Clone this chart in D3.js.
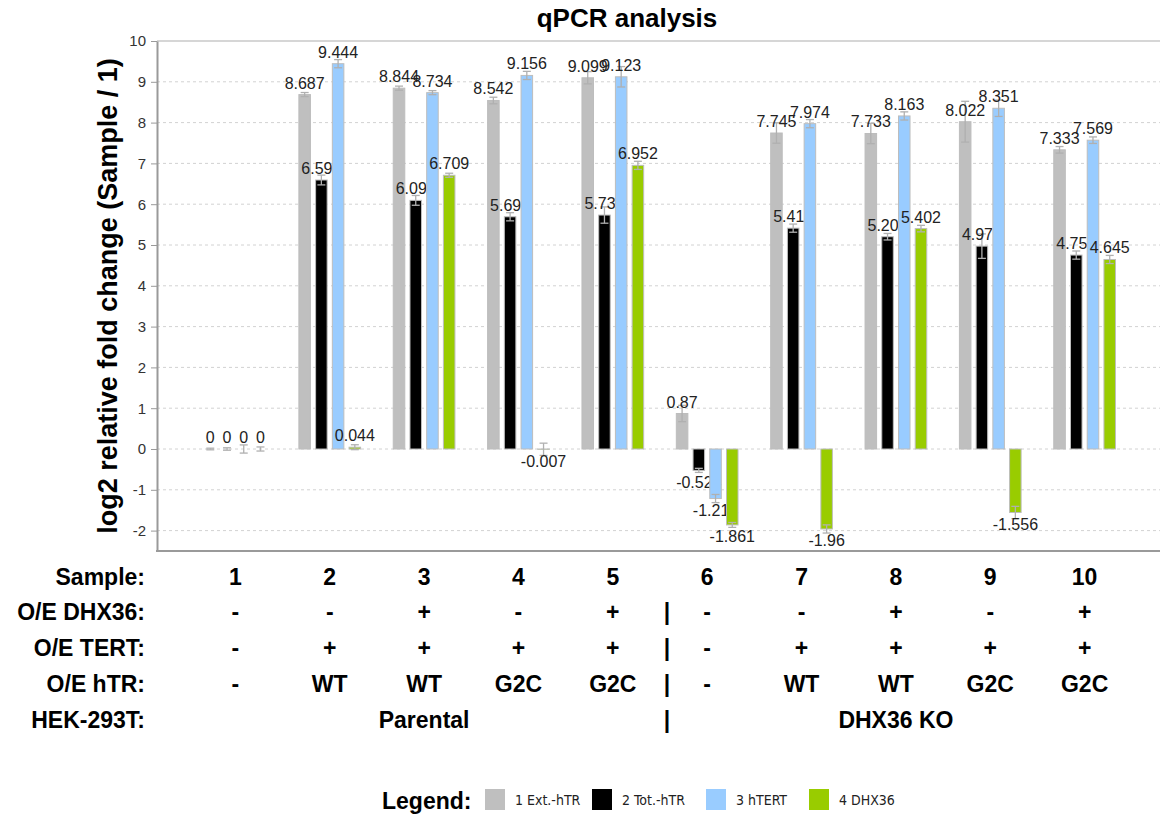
<!DOCTYPE html>
<html>
<head>
<meta charset="utf-8">
<title>qPCR analysis</title>
<script src="https://cdn.jsdelivr.net/npm/d3@7"></script>
<style>
  body { margin: 0; background: #fff; }
  svg { display: block; font-family: "Liberation Sans", Arial, sans-serif; }
</style>
</head>
<body>
<div id="chart"></div>
<script>
// Samples on the x axis, one group of four bars each.
const samples = ["1", "2", "3", "4", "5", "6", "7", "8", "9", "10"];
const seriesNames = ["1 Ext.-hTR", "2 Tot.-hTR", "3 hTERT", "4 DHX36"];
const seriesColors = ["#bfbfbf", "#000000", "#99ccff", "#99cc00"];

// log2 relative fold change, one array per series
const extHTR = [0, 8.687, 8.844, 8.542, 9.099, 0.87, 7.745, 7.733, 8.022, 7.333];
const totHTR = [0, 6.593, 6.094, 5.692, 5.734, -0.524, 5.413, 5.203, 4.972, 4.753];
const hTERT = [0, 9.444, 8.734, 9.156, 9.123, -1.214, 7.974, 8.163, 8.351, 7.569];
const dhx36 = [0, 0.044, 6.709, -0.007, 6.952, -1.861, -1.96, 5.402, -1.556, 4.645];

// error bars (half height)
const extErr = [0.02, 0.05, 0.05, 0.08, 0.15, 0.2, 0.25, 0.25, 0.5, 0.08];
const totErr = [0.03, 0.12, 0.12, 0.1, 0.2, 0.05, 0.1, 0.08, 0.3, 0.1];
const hTERTErr = [0.1, 0.1, 0.05, 0.1, 0.25, 0.1, 0.1, 0.1, 0.2, 0.08];
const dhx36Err = [0.05, 0.06, 0.05, 0.15, 0.1, 0.06, 0.1, 0.08, 0.15, 0.1];

const yTicks = [-2, -1, 0, 1, 2, 3, 4, 5, 6, 7, 8, 9, 10];

// Condition table under the chart
const rowLabels = ["Sample:", "O/E DHX36:", "O/E TERT:", "O/E hTR:", "HEK-293T:"];
const oeDHX36 = ["-", "-", "+", "-", "+", "-", "-", "+", "-", "+"];
const oeTERT = ["-", "+", "+", "+", "+", "-", "+", "+", "+", "+"];
const oeHTR = ["-", "WT", "WT", "G2C", "G2C", "-", "WT", "WT", "G2C", "G2C"];
const cellLines = ["Parental", "DHX36 KO"];
const cellLineUnder = ["3", "8"];

const seriesValues = [extHTR, totHTR, hTERT, dhx36];
const seriesErrors = [extErr, totErr, hTERTErr, dhx36Err];

let WIDTH = 1160,
    HEIGHT = 816,
    LEFT = 157,
    RIGHT = 1160,
    TOP = 41,
    BOTTOM = 551;

let svg = d3.select("#chart")
    .append("svg")
    .attr("width", WIDTH)
    .attr("height", HEIGHT);

let x0 = d3.scaleBand().domain(samples).range([LEFT + 1, RIGHT + 2]).paddingInner(0.3).paddingOuter(0.47);
let x1 = d3.scaleBand().domain(d3.range(seriesNames.length)).range([0, x0.bandwidth()]).paddingInner(0.31).paddingOuter(0.13);
let yScale = d3.scaleLinear().domain([-2.5, 10]).range([BOTTOM, TOP]);

const fmt = v => String(+v.toFixed(3));

// title
svg.append("text")
    .attr("x", 627)
    .attr("y", 27)
    .attr("text-anchor", "middle")
    .style("font-size", "26px")
    .style("font-weight", "bold")
    .text("qPCR analysis");

// grid lines
svg.append("g")
    .selectAll("line")
    .data(yTicks.filter(t => t < 10))
    .enter()
    .append("line")
    .attr("x1", LEFT)
    .attr("x2", RIGHT)
    .attr("y1", d => yScale(d))
    .attr("y2", d => yScale(d))
    .attr("stroke", "#d2d2d2")
    .attr("stroke-dasharray", "3,3");

svg.append("line")
    .attr("x1", LEFT).attr("x2", RIGHT)
    .attr("y1", yScale(10)).attr("y2", yScale(10))
    .attr("stroke", "#c8c8c8")
    .attr("stroke-width", 1.5);

// y axis
let yAxis = svg.append("g")
    .attr("transform", `translate(${LEFT}, 0)`)
    .call(d3.axisLeft(yScale).tickValues(yTicks).tickSize(6).tickSizeOuter(0).tickPadding(5).tickFormat(d => String(d)));
yAxis.select(".domain").attr("stroke", "#9a9a9a").attr("stroke-width", 2);
yAxis.selectAll(".tick line").attr("stroke", "#9a9a9a");
yAxis.selectAll(".tick text")
    .style("font-family", "'Liberation Sans', Arial, sans-serif")
    .style("font-size", "15px")
    .attr("fill", "#333");

svg.append("text")
    .attr("transform", `translate(117, ${(TOP + BOTTOM) / 2}) rotate(-90)`)
    .attr("text-anchor", "middle")
    .style("font-size", "27px")
    .style("font-weight", "bold")
    .text("log2 relative fold change (Sample / 1)");

// bars, error bars and labels, one series at a time so later bars sit on earlier labels
seriesValues.forEach((values, k) => {
    const errs = seriesErrors[k];
    const rows = samples.map((s, i) => ({ sample: s, v: values[i], e: errs[i] }));
    const cx = d => x0(d.sample) + x1(k) + x1.bandwidth() / 2;
    let g = svg.append("g");

    g.selectAll("rect")
        .data(rows.filter(d => d.v !== 0))
        .enter()
        .append("rect")
        .attr("x", d => x0(d.sample) + x1(k))
        .attr("width", x1.bandwidth())
        .attr("y", d => yScale(Math.max(0, d.v)))
        .attr("height", d => Math.abs(yScale(d.v) - yScale(0)))
        .attr("fill", seriesColors[k])
        .attr("stroke", "#bdbdbd")
        .attr("stroke-width", 1);

    let err = g.selectAll("g.err")
        .data(rows)
        .enter()
        .append("g")
        .attr("class", "err")
        .attr("stroke", "#b0b0b0")
        .attr("stroke-width", 1.3);
    err.append("line")
        .attr("x1", cx).attr("x2", cx)
        .attr("y1", d => yScale(d.v - d.e))
        .attr("y2", d => yScale(d.v + d.e));
    err.append("line")
        .attr("x1", d => cx(d) - 4).attr("x2", d => cx(d) + 4)
        .attr("y1", d => yScale(d.v + d.e))
        .attr("y2", d => yScale(d.v + d.e));
    err.append("line")
        .attr("x1", d => cx(d) - 4).attr("x2", d => cx(d) + 4)
        .attr("y1", d => yScale(d.v - d.e))
        .attr("y2", d => yScale(d.v - d.e));

    // value labels sit a fixed distance from the bar end
    g.selectAll("text")
        .data(rows)
        .enter()
        .append("text")
        .attr("x", cx)
        .attr("y", d => d.v >= 0 ? yScale(d.v) - 6 : yScale(d.v) + 17.5)
        .attr("text-anchor", "middle")
        .attr("fill", "#222")
        .style("font-size", "16px")
        .text(d => fmt(d.v));
});

// bottom line of the plot
svg.append("line")
    .attr("x1", LEFT - 1).attr("x2", RIGHT)
    .attr("y1", BOTTOM).attr("y2", BOTTOM)
    .attr("stroke", "#9a9a9a")
    .attr("stroke-width", 2);

// condition table
const rowY = [585, 620, 656, 692, 728];
const tableRows = [samples, oeDHX36, oeTERT, oeHTR];
let table = svg.append("g")
    .style("font-size", "23px")
    .style("font-weight", "bold");

table.selectAll("text.rowlabel")
    .data(rowLabels)
    .enter()
    .append("text")
    .attr("class", "rowlabel")
    .attr("x", 145)
    .attr("y", (d, i) => rowY[i])
    .attr("text-anchor", "end")
    .text(d => d);

tableRows.forEach((row, r) => {
    table.selectAll(`text.r${r}`)
        .data(row)
        .enter()
        .append("text")
        .attr("class", `r${r}`)
        .attr("x", (d, i) => x0(samples[i]) + x0.bandwidth() / 2)
        .attr("y", rowY[r])
        .attr("text-anchor", "middle")
        .text(d => d);
});

table.selectAll("text.cell")
    .data(cellLines)
    .enter()
    .append("text")
    .attr("class", "cell")
    .attr("x", (d, i) => x0(cellLineUnder[i]) + x0.bandwidth() / 2)
    .attr("y", rowY[4])
    .attr("text-anchor", "middle")
    .text(d => d);

// separator between parental and KO samples
table.selectAll("text.sep")
    .data(rowY.slice(1))
    .enter()
    .append("text")
    .attr("class", "sep")
    .attr("x", 667)
    .attr("y", d => d)
    .attr("text-anchor", "middle")
    .text("|");

// legend
let legend = svg.append("g");
legend.append("text")
    .attr("x", 382)
    .attr("y", 809)
    .style("font-size", "23px")
    .style("font-weight", "bold")
    .text("Legend:");

const legendX = [485, 592, 706, 809];
let items = legend.selectAll("g.item")
    .data(seriesNames)
    .enter()
    .append("g")
    .attr("class", "item")
    .attr("transform", (d, i) => `translate(${legendX[i]}, 789)`);
items.append("rect")
    .attr("width", 20)
    .attr("height", 21)
    .attr("fill", (d, i) => seriesColors[i]);
items.append("text")
    .attr("x", 30)
    .attr("y", 16)
    .style("font-family", "'DejaVu Sans Condensed', 'DejaVu Sans', sans-serif")
    .style("font-size", "14px")
    .attr("fill", "#222")
    .text(d => d);
</script>
</body>
</html>
